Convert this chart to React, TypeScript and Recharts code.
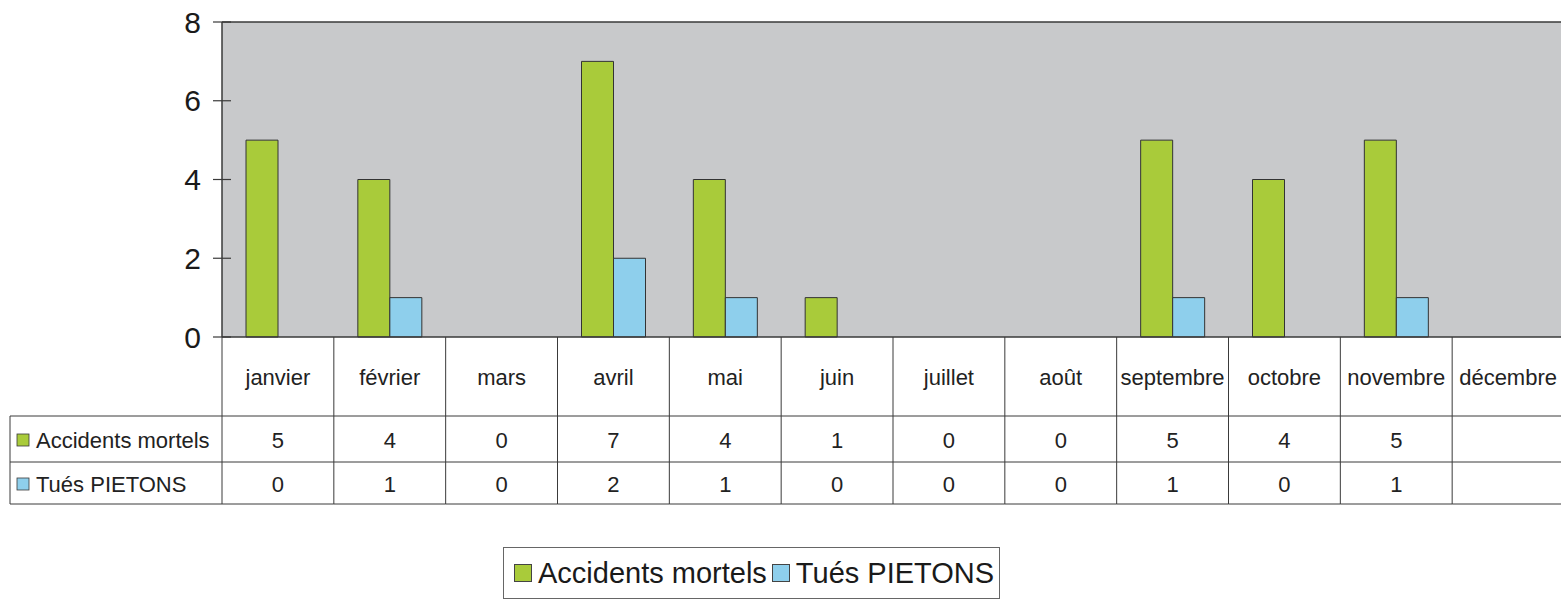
import { Bar, BarChart, CartesianGrid, Legend, ReferenceLine, XAxis, YAxis } from "recharts";

const months = [
  "janvier",
  "février",
  "mars",
  "avril",
  "mai",
  "juin",
  "juillet",
  "août",
  "septembre",
  "octobre",
  "novembre",
  "décembre",
];
const accidentsMortels = [5, 4, 0, 7, 4, 1, 0, 0, 5, 4, 5, null];
const tuesPietons = [0, 1, 0, 2, 1, 0, 0, 0, 1, 0, 1, null];
const yTicks = [0, 2, 4, 6, 8];

const series = [
  { key: "accidents", name: "Accidents mortels", color: "#A9CB3A", values: accidentsMortels },
  { key: "pietons", name: "Tués PIETONS", color: "#8ECFEC", values: tuesPietons },
];

const data = months.map((month, i) => ({
  month,
  accidents: accidentsMortels[i],
  pietons: tuesPietons[i],
}));

const CHART_W = 1564;
const CHART_H = 601;
const PLOT_LEFT = 222;
const PLOT_RIGHT = 0;
const COL_W = (CHART_W - PLOT_LEFT - PLOT_RIGHT) / months.length;
const TABLE_LEFT = 10;
const FONT = "'Liberation Sans', Arial, sans-serif";
const LINE = "#3a3a3a";

// row offsets below the x axis line
const HEADER_END = 79;
const ROW1_END = 125;
const ROW2_END = 167;

const YTick = (props: any) => {
  const { x, y, payload } = props;
  return (
    <g>
      <line x1={x - 9} x2={x + 9} y1={y} y2={y} stroke={LINE} strokeWidth={1.2} />
      <text
        x={x - 21}
        y={y}
        textAnchor="end"
        dominantBaseline="central"
        fontSize={30}
        fontFamily={FONT}
        fill="#1a1a1a"
      >
        {payload.value}
      </text>
    </g>
  );
};

const TableColumn = (props: any) => {
  const { x, y, payload, index } = props;
  const left = x - COL_W / 2;
  const right = x + COL_W / 2;
  const textProps = {
    textAnchor: "middle" as const,
    dominantBaseline: "central" as const,
    fontSize: 22,
    fontFamily: FONT,
    fill: "#222",
  };
  return (
    <g>
      <line x1={left} x2={left} y1={y} y2={y + ROW2_END} stroke={LINE} strokeWidth={1} />
      <line x1={left} x2={right} y1={y + HEADER_END} y2={y + HEADER_END} stroke={LINE} strokeWidth={1} />
      <line x1={left} x2={right} y1={y + ROW1_END} y2={y + ROW1_END} stroke={LINE} strokeWidth={1} />
      <line x1={left} x2={right} y1={y + ROW2_END} y2={y + ROW2_END} stroke={LINE} strokeWidth={1} />
      <text x={x} y={y + 40} {...textProps}>
        {payload.value}
      </text>
      <text x={x} y={y + 103} {...textProps}>
        {accidentsMortels[index] ?? ""}
      </text>
      <text x={x} y={y + 147} {...textProps}>
        {tuesPietons[index] ?? ""}
      </text>
      {index === 0 && (
        <g>
          <line x1={TABLE_LEFT} x2={left} y1={y + HEADER_END} y2={y + HEADER_END} stroke={LINE} strokeWidth={1} />
          <line x1={TABLE_LEFT} x2={left} y1={y + ROW1_END} y2={y + ROW1_END} stroke={LINE} strokeWidth={1} />
          <line x1={TABLE_LEFT} x2={left} y1={y + ROW2_END} y2={y + ROW2_END} stroke={LINE} strokeWidth={1} />
          <line x1={TABLE_LEFT} x2={TABLE_LEFT} y1={y + HEADER_END} y2={y + ROW2_END} stroke={LINE} strokeWidth={1} />
          {series.map((s, i) => {
            const cy = y + (i === 0 ? 103 : 147);
            return (
              <g key={s.key}>
                <rect x={17} y={cy - 6} width={12} height={12} fill={s.color} stroke={LINE} strokeWidth={0.8} />
                <text x={36} y={cy} dominantBaseline="central" fontSize={22} fontFamily={FONT} fill="#222">
                  {s.name}
                </text>
              </g>
            );
          })}
        </g>
      )}
    </g>
  );
};

const LegendBox = () => (
  <div
    style={{
      display: "flex",
      alignItems: "center",
      border: "1px solid #666",
      height: 50,
      padding: "0 1px 0 10px",
      fontFamily: FONT,
      fontSize: 29,
      color: "#1a1a1a",
      background: "#fff",
      whiteSpace: "nowrap",
    }}
  >
    {series.map((s, i) => (
      <span
        key={s.key}
        style={{ display: "flex", alignItems: "center", marginRight: i === series.length - 1 ? 4 : 5 }}
      >
        <span
          style={{
            width: 16,
            height: 16,
            background: s.color,
            border: "1px solid #444",
            marginRight: 6,
            display: "inline-block",
          }}
        />
        {s.name}
      </span>
    ))}
  </div>
);

export default function App() {
  return (
    <div style={{ position: "absolute", left: 0, top: 0, width: 1561, height: CHART_H, overflow: "hidden", background: "#fff" }}>
      <BarChart
        width={CHART_W}
        height={CHART_H}
        data={data}
        margin={{ top: 22, right: PLOT_RIGHT, bottom: 234, left: 0 }}
        barGap={0}
        barSize={32}
      >
        <CartesianGrid fill="#C8C9CB" horizontal={false} vertical={false} />
        <YAxis
          width={PLOT_LEFT}
          domain={[0, 8]}
          ticks={yTicks}
          interval={0}
          tickLine={false}
          tickSize={0}
          tickMargin={0}
          axisLine={{ stroke: LINE, strokeWidth: 1.5 }}
          tick={YTick}
        />
        <XAxis
          dataKey="month"
          height={30}
          interval={0}
          tickLine={false}
          tickSize={0}
          tickMargin={0}
          axisLine={{ stroke: LINE, strokeWidth: 1.5 }}
          tick={TableColumn}
        />
        <ReferenceLine y={8} stroke={LINE} strokeWidth={1.5} />
        {series.map((s) => (
          <Bar
            key={s.key}
            dataKey={s.key}
            name={s.name}
            fill={s.color}
            stroke="#333"
            strokeWidth={1}
            isAnimationActive={false}
          />
        ))}
        <Legend
          layout="horizontal"
          verticalAlign="middle"
          align="center"
          wrapperStyle={{ left: 503, top: 547, width: "auto", height: "auto" }}
          content={LegendBox}
        />
      </BarChart>
    </div>
  );
}
